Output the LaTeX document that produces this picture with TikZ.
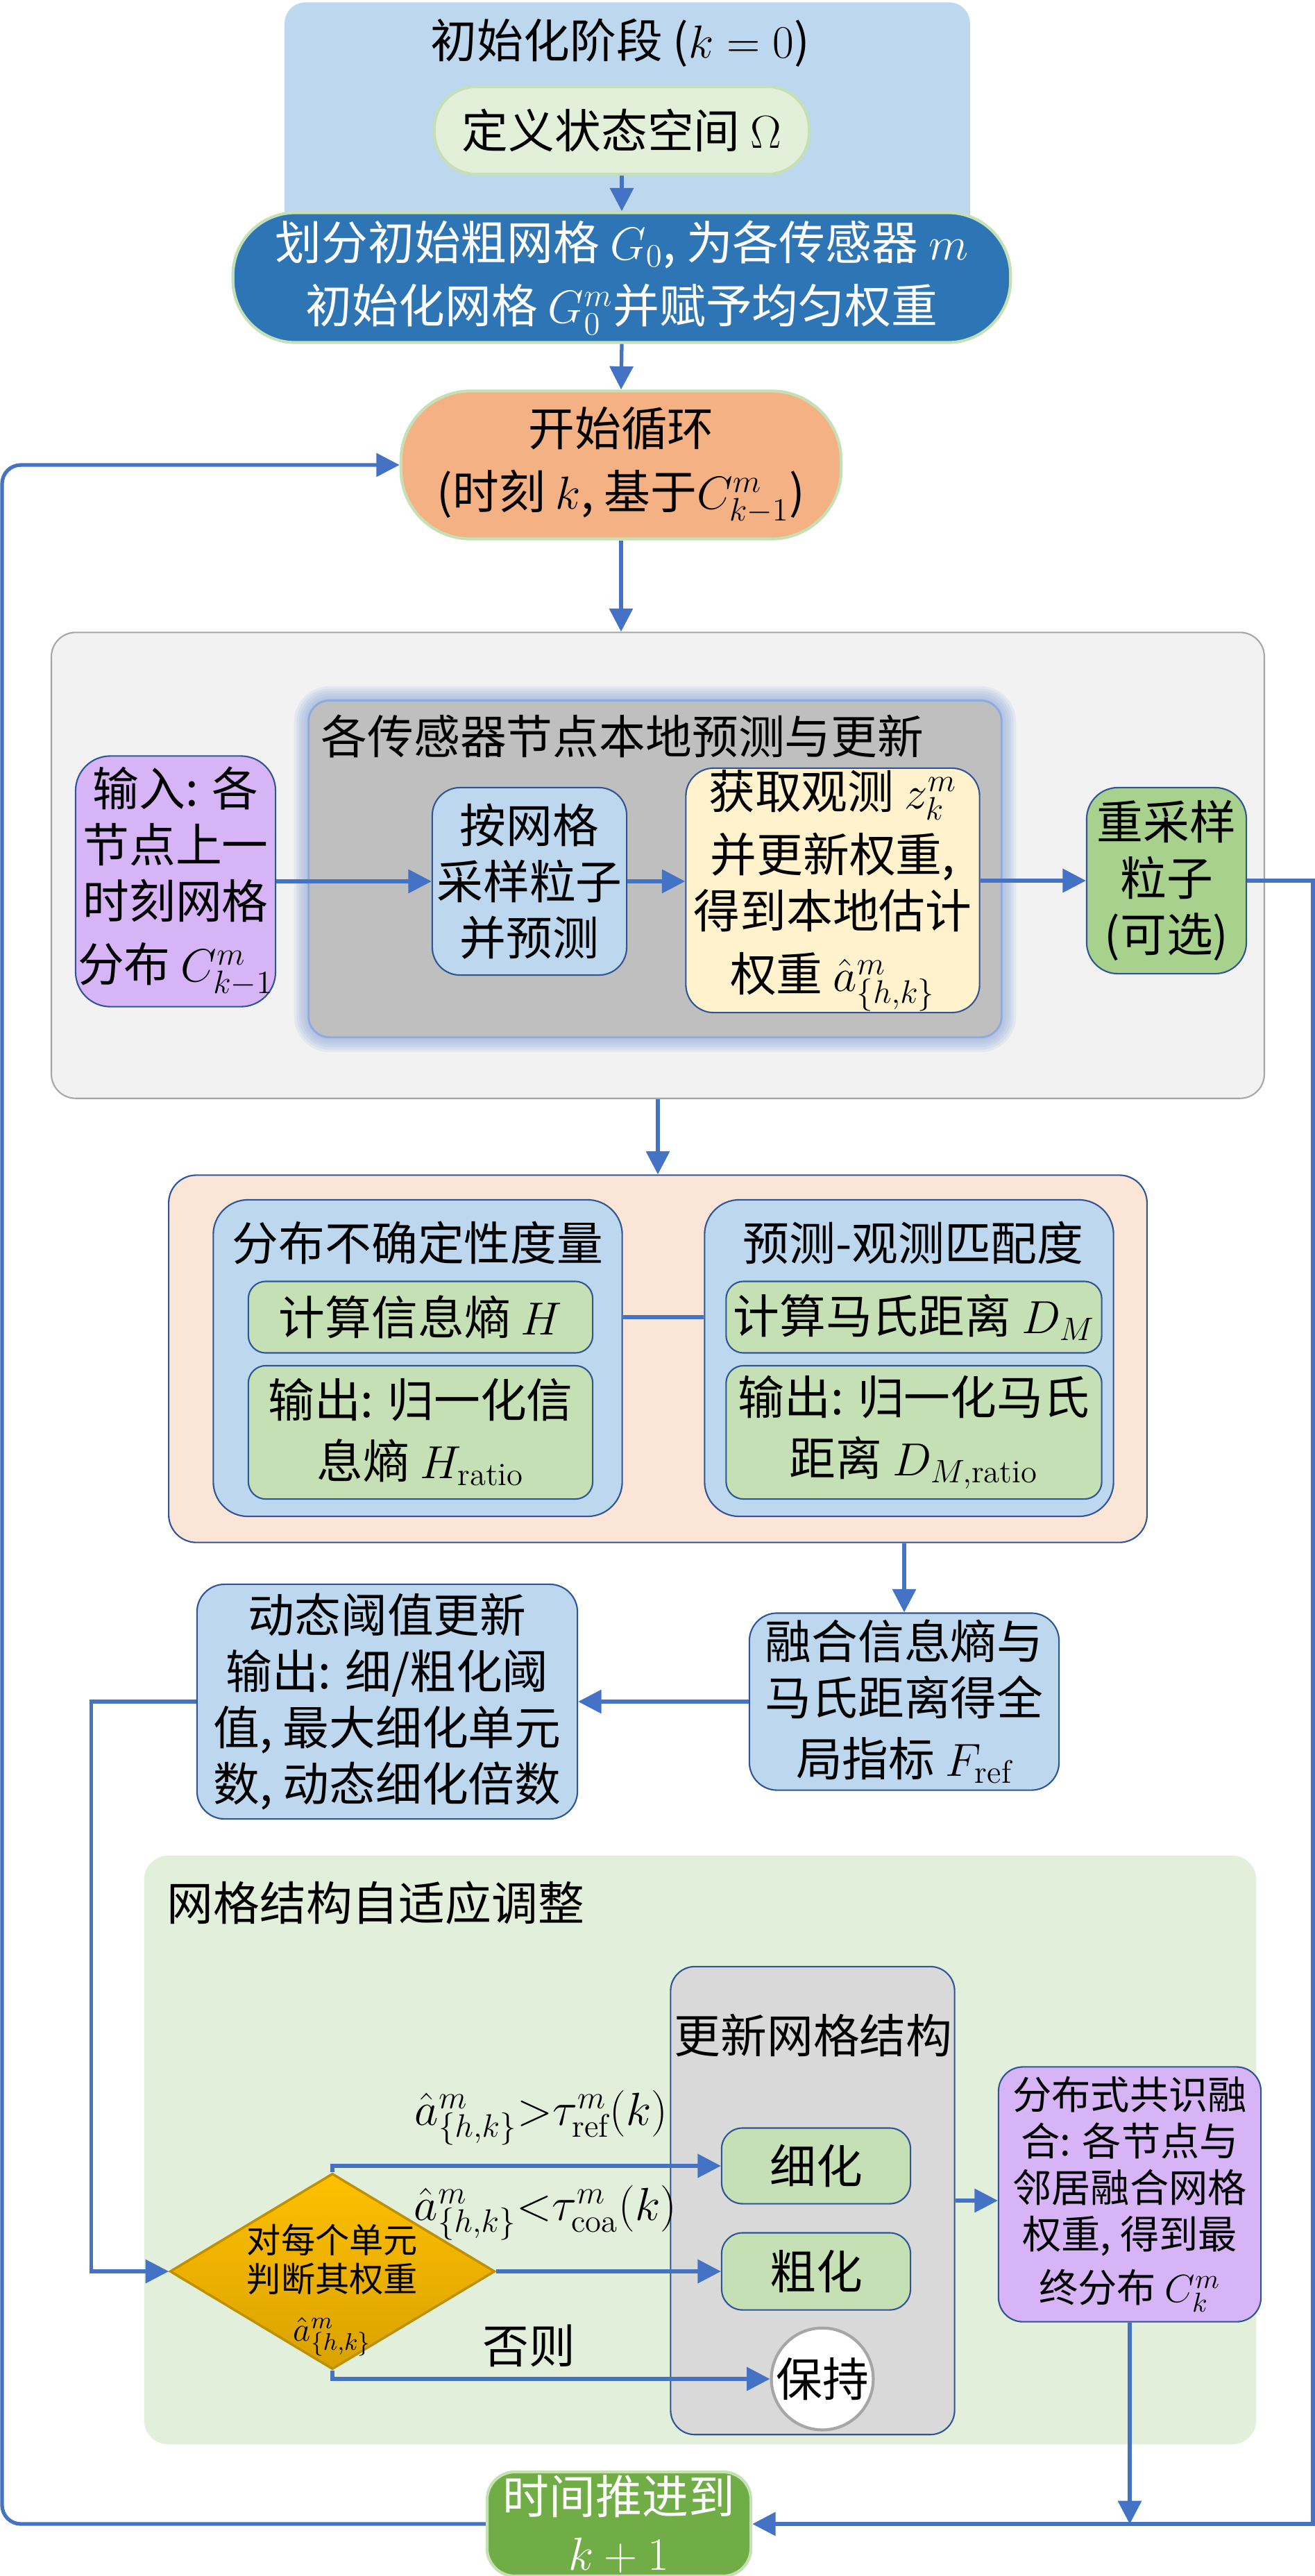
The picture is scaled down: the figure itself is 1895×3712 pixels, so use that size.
\RequirePackage{fix-cm}
\documentclass[tikz,border=0pt]{standalone}
\usepackage{fontspec}
\newfontfamily\cjk{Noto Sans CJK SC}
\usetikzlibrary{arrows.meta,shapes.geometric}
% Colours of the chart
\definecolor{flowBlue}{HTML}{4472C4}
\definecolor{edgeBlue}{HTML}{2F5597}
\definecolor{edgeGreen}{HTML}{C5E0B4}
\definecolor{paleBlue}{HTML}{BDD7EE}
\definecolor{deepBlue}{HTML}{2E75B6}
\definecolor{paleGreen}{HTML}{E2F0D9}
\definecolor{softOrange}{HTML}{F4B183}
\definecolor{bgGray}{HTML}{F2F2F2}
\definecolor{frameGray}{HTML}{A6A6A6}
\definecolor{midGray}{HTML}{BFBFBF}
\definecolor{glowBlue}{HTML}{8FAADC}
\definecolor{lilac}{HTML}{D6B4F6}
\definecolor{cream}{HTML}{FFF2CC}
\definecolor{sageGreen}{HTML}{A9D18E}
\definecolor{peach}{HTML}{FBE5D6}
\definecolor{leafGreen}{HTML}{C5E0B4}
\definecolor{mintGreen}{HTML}{E2EFDA}
\definecolor{stoneGray}{HTML}{D9D9D9}
\definecolor{goldTop}{HTML}{FFC000}
\definecolor{goldBottom}{HTML}{D9A200}
\definecolor{goldEdge}{HTML}{BF9000}
\definecolor{grassGreen}{HTML}{70AD47}
\tikzset{
%Define standard arrow tip
>={Triangle[length=9.5pt,width=9.5pt]},
%Define styles for text, boxes and lines
txt/.style={font=\cjk\fontsize{19}{23}\selectfont, align=center, inner sep=0pt},
small txt/.style={font=\cjk\fontsize{16}{19}\selectfont, align=center, inner sep=0pt},
tiny txt/.style={font=\cjk\fontsize{14}{16}\selectfont, align=center, inner sep=0pt},
pill/.style={txt, draw=edgeGreen, line width=1.2pt},
card/.style={txt, draw=edgeBlue, line width=0.6pt, rounded corners=0.4cm},
panel/.style={draw=edgeBlue, line width=0.6pt, rounded corners=0.4cm},
flow/.style={->, draw=flowBlue, line width=1.5pt},
joint/.style={draw=flowBlue, line width=1.5pt},
}

\begin{document}
\begin{tikzpicture}[x=0.01cm, y=-0.01cm]
    \useasboundingbox (0,0) rectangle (1895,3712);

    % Initialisation stage
    \node[fill=paleBlue, rounded corners=0.3cm, minimum width=9.87cm,
      minimum height=3.97cm] (initbg) at (904,202) {};
    \node[txt] (inittitle) at (894,62) {初始化阶段 ($k = 0$)};
    \node[pill, fill=paleGreen, rounded corners=0.6cm, minimum width=5.4cm,
      minimum height=1.26cm] (space) at (896,188) {定义状态空间 $\Omega$};
    \node[pill, fill=deepBlue, text=white, rounded corners=0.9cm,
      minimum width=11.2cm, minimum height=1.87cm] (grid) at (896,400)
      {划分初始粗网格 $G_0$, 为各传感器 $m$\\[3pt]初始化网格 $G_0^m$并赋予均匀权重};
    \node[pill, fill=softOrange, rounded corners=1cm, minimum width=6.34cm,
      minimum height=2.13cm] (start) at (895,670)
      {开始循环\\[3pt](时刻 $k$, 基于$C_{k-1}^m$)};
    \draw[flow] (space.south) -- (grid.north);
    \draw[flow] (grid.south) -- (start.north);

    % Local prediction and update
    \node[draw=frameGray, fill=bgGray, line width=0.6pt, rounded corners=0.35cm,
      minimum width=17.47cm, minimum height=6.71cm] (local) at (948,1247) {};
    % soft blue glow round the sensor panel
    \foreach \g in {12,10,...,2}
      \draw[glowBlue, line width=\g pt, opacity=0.15, rounded corners=0.3cm]
        (445,1010) rectangle (1443,1495);
    \node[draw=glowBlue, fill=midGray, line width=0.8pt, rounded corners=0.3cm,
      minimum width=9.98cm, minimum height=4.85cm] (sensor) at (944,1252) {};
    \node[txt, anchor=west] (sensortitle) at (462,1061) {各传感器节点本地预测与更新};
    \node[card, fill=lilac, rounded corners=0.5cm, minimum width=2.88cm,
      minimum height=3.61cm] (input) at (253,1270)
      {输入: 各\\节点上一\\时刻网格\\[3pt]分布 $C_{k-1}^m$};
    \node[card, fill=paleBlue, minimum width=2.8cm, minimum height=2.7cm]
      (sample) at (763,1270) {按网格\\采样粒子\\并预测};
    \node[card, fill=cream, minimum width=4.23cm, minimum height=3.52cm]
      (observe) at (1200,1283)
      {获取观测 $z_k^m$\\[3pt]并更新权重,\\得到本地估计\\[3pt]权重 $\hat{a}_{\{h,k\}}^m$};
    \node[card, fill=sageGreen, rounded corners=0.45cm, minimum width=2.3cm,
      minimum height=2.68cm] (resample) at (1681,1269) {重采样\\粒子\\(可选)};
    \draw[flow] (start.south) -- (start.south |- local.north);
    \draw[flow] (input.east) -- (sample.west);
    \draw[flow] (sample.east) -- (sample.east -| observe.west);
    \draw[flow] (resample.west -| observe.east) -- (resample.west);

    % Uncertainty and matching measures
    \node[panel, fill=peach, minimum width=14.09cm, minimum height=5.29cm]
      (measure) at (948,1958) {};
    \node[panel, fill=paleBlue, rounded corners=0.5cm, minimum width=5.89cm,
      minimum height=4.56cm] (uncert) at (602,1957) {};
    \node[panel, fill=paleBlue, rounded corners=0.5cm, minimum width=5.89cm,
      minimum height=4.56cm] (match) at (1310,1957) {};
    \node[txt] (uncerttitle) at (602,1791) {分布不确定性度量};
    \node[txt] (matchtitle) at (1316,1791) {预测-观测匹配度};
    \node[card, fill=leafGreen, rounded corners=0.25cm, minimum width=4.96cm,
      minimum height=1.03cm] (entropy) at (606,1898) {计算信息熵 $H$};
    \node[card, fill=leafGreen, rounded corners=0.25cm, minimum width=4.96cm,
      minimum height=1.92cm] (entropyout) at (606,2064)
      {输出: 归一化信\\[2pt]息熵 $H_{\mathrm{ratio}}$};
    \node[card, fill=leafGreen, rounded corners=0.25cm, minimum width=5.41cm,
      minimum height=1.03cm] (mahal) at (1317,1898) {计算马氏距离 $D_M$};
    \node[card, fill=leafGreen, rounded corners=0.25cm, minimum width=5.41cm,
      minimum height=1.92cm] (mahalout) at (1317,2064)
      {输出: 归一化马氏\\[2pt]距离 $D_{M,\mathrm{ratio}}$};
    \draw[joint] (entropy.east -| uncert.east) -- (entropy.east -| match.west);
    \draw[flow] (local.south) -- (measure.north);

    % Global index and thresholds
    \node[card, fill=paleBlue, minimum width=4.46cm, minimum height=2.55cm]
      (fusion) at (1303,2452) {融合信息熵与\\马氏距离得全\\[2pt]局指标 $F_{\mathrm{ref}}$};
    \node[card, fill=paleBlue, minimum width=5.48cm, minimum height=3.38cm]
      (thresh) at (558,2452)
      {动态阈值更新\\输出: 细/粗化阈\\值, 最大细化单元\\数, 动态细化倍数};
    \draw[flow] (fusion.north |- measure.south) -- (fusion.north);
    \draw[flow] (fusion.west) -- (thresh.east);

    % Adaptive grid structure
    \node[fill=mintGreen, rounded corners=0.35cm, minimum width=16.02cm,
      minimum height=8.48cm] (adapt) at (1009,3098) {};
    \node[txt, anchor=west] (adapttitle) at (240,2742) {网格结构自适应调整};
    \node[panel, fill=stoneGray, rounded corners=0.35cm, minimum width=4.09cm,
      minimum height=6.74cm] (update) at (1171,3171) {};
    \node[txt] (updatetitle) at (1172,2933) {更新网格结构};
    \node[card, fill=leafGreen, rounded corners=0.3cm, minimum width=2.72cm,
      minimum height=1.09cm] (refine) at (1176,3121) {细化};
    \node[card, fill=leafGreen, rounded corners=0.3cm, minimum width=2.72cm,
      minimum height=1.11cm] (coarsen) at (1176,3273) {粗化};
    \node[txt, circle, draw=frameGray, fill=white, line width=1.2pt,
      minimum size=1.46cm] (keep) at (1185,3428) {保持};
    \node[diamond, aspect=1.66, inner sep=0pt, minimum width=4.68cm,
      minimum height=2.82cm, draw=goldEdge, line width=1pt,
      top color=goldTop, bottom color=goldBottom] (decide) at (479,3273) {};
    \node[tiny txt] (decidetext) at (479,3300)
      {对每个单元\\判断其权重\\[4pt]$\hat{a}_{\{h,k\}}^m$};
    \node[txt] (refinecond) at (780,3052)
      {$\hat{a}_{\{h,k\}}^m{>}\tau_{\mathrm{ref}}^m(k)$};
    \node[txt] (coarsencond) at (786,3189)
      {$\hat{a}_{\{h,k\}}^m{<}\tau_{\mathrm{coa}}^m(k)$};
    \node[txt] (otherwise) at (762,3380) {否则};
    \draw[flow] (thresh.west) -- ++(-151,0) |- (decide.west);
    \draw[flow] (decide.north) |- (refine.west);
    \draw[flow] (decide.east) -- (coarsen.west);
    \draw[flow] (decide.south) |- (keep.west);

    % Consensus and next time step
    \node[card, small txt, fill=lilac, rounded corners=0.35cm,
      minimum width=3.78cm, minimum height=3.67cm] (consensus) at (1628,3162)
      {分布式共识融\\合: 各节点与\\邻居融合网格\\权重, 得到最\\[3pt]终分布 $C_k^m$};
    \node[pill, fill=grassGreen, text=white, rounded corners=0.4cm,
      minimum width=3.8cm, minimum height=1.5cm] (advance) at (892,3637)
      {时间推进到\\$k+1$};
    \draw[flow] (update.east) -- (update.east -| consensus.west);
    \draw[flow] (consensus.south) -- (consensus.south |- advance.east);

    % Loops back to the start
    \coordinate (loopR) at (1892,1269);
    \coordinate (loopL) at (3,670);
    \draw[flow] (resample.east) -- (loopR) |- (advance.east);
    \draw[flow, rounded corners=0.27cm] (advance.west) -| (loopL) -- (start.west);
\end{tikzpicture}
\end{document}
